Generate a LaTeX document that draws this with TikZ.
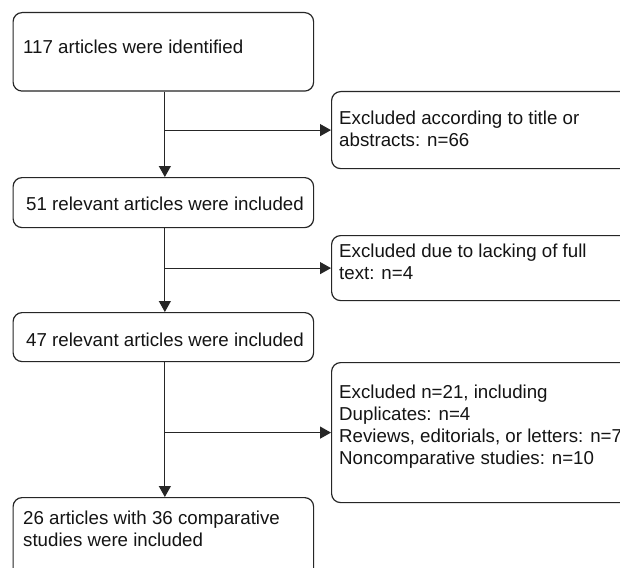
\documentclass[tikz,border=0pt]{standalone}
\usepackage{fontspec}
\setmainfont{Liberation Sans}
\usetikzlibrary{arrows.meta}
\begin{document}
\begin{tikzpicture}[x=1pt,y=-1pt,
  box/.style={draw=black!85, line width=1.2pt, rounded corners=9pt, inner sep=0pt, anchor=north west},
  txt/.style={inner sep=0pt, align=left, font=\fontsize{18.7}{22}\selectfont, text=black!92},
  ctxt/.style={inner sep=0pt, align=center, font=\fontsize{18.7}{22}\selectfont, text=black!92},
  conn/.style={draw=black!85, line width=1.2pt},
  arr/.style={conn, -{Triangle[length=11pt,width=12pt]}}
]
\clip (0,0) rectangle (620,567);
\fill[white] (0,0) rectangle (620,567);

% left column boxes
\node[box, minimum width=300.5pt, minimum height=78.5pt] (b1) at (12.5,12) {};
\node[box, minimum width=300.5pt, minimum height=50pt] (b2) at (12.5,177) {};
\node[box, minimum width=300.5pt, minimum height=49pt] (b3) at (12.5,312) {};
\node[box, minimum width=300.5pt, minimum height=100pt] (b4) at (12.5,497) {};

% right column boxes
\node[box, minimum width=320pt, minimum height=77pt] (r1) at (331,91) {};
\node[box, minimum width=320pt, minimum height=65pt] (r2) at (331,235) {};
\node[box, minimum width=320pt, minimum height=140pt] (r3) at (331,362) {};

% texts
\node[txt, anchor=north west] (t1) at (23,40) {117 articles were identified};
\node[ctxt, anchor=center] (t2) at (165,204) {51 relevant articles were included};
\node[ctxt, anchor=center] (t3) at (165,340) {47 relevant articles were included};
\node[txt, anchor=north west] (t4) at (23,511) {26 articles with 36 comparative\\studies were included};
\node[txt, anchor=north west] (tr1) at (339,111) {Excluded according to title or\\abstracts: n=66};
\node[txt, anchor=north west] (tr2) at (339,244) {Excluded due to lacking of full\\text: n=4};
\node[txt, anchor=north west] (tr3) at (339,385) {Excluded n=21, including\\Duplicates: n=4\\Reviews, editorials, or letters: n=7\\Noncomparative studies: n=10};

% spine coordinates
\coordinate (s1) at ([xshift=1.5pt]b1.south);
\coordinate (s2) at ([xshift=1.5pt]b2.south);
\coordinate (s3) at ([xshift=1.5pt]b3.south);
\coordinate (n2) at ([xshift=1.5pt]b2.north);
\coordinate (n3) at ([xshift=1.5pt]b3.north);
\coordinate (n4) at ([xshift=1.5pt]b4.north);

% connectors
\draw[arr] (s1) -- (n2);
\draw[arr] (s2) -- (n3);
\draw[arr] (s3) -- (n4);
\draw[arr] (s1 |- r1.west) -- (r1.west);
\draw[arr] (s2 |- r2.west) -- (r2.west);
\draw[arr] (s3 |- r3.west) -- (r3.west);
\end{tikzpicture}
\end{document}
